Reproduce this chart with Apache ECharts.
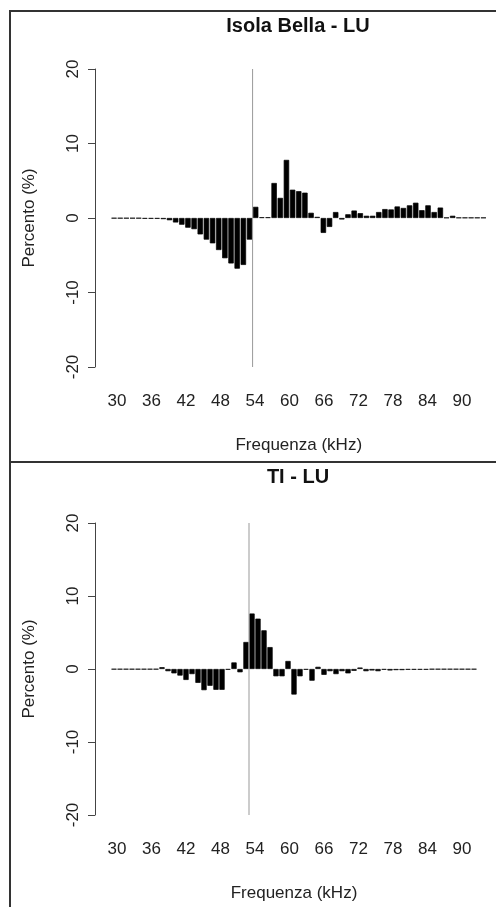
<!DOCTYPE html>
<html>
<head>
<meta charset="utf-8">
<script src="https://cdn.jsdelivr.net/npm/echarts@6/dist/echarts.min.js"></script>
<style>
  html, body { margin: 0; padding: 0; background: #fff; }
  #chart { width: 496px; height: 907px; }
</style>
</head>
<body>
<div id="chart"></div>
<script>
// frequency bins (kHz), one bar per bin
const freq = [30, 31, 32, 33, 34, 35, 36, 37, 38, 39,
  40, 41, 42, 43, 44, 45, 46, 47, 48, 49,
  50, 51, 52, 53, 54, 55, 56, 57, 58, 59,
  60, 61, 62, 63, 64, 65, 66, 67, 68, 69,
  70, 71, 72, 73, 74, 75, 76, 77, 78, 79,
  80, 81, 82, 83, 84, 85, 86, 87, 88, 89, 90];

// Isola Bella - LU (%)
const isolaBella = [-0.05, -0.05, -0.05, -0.05, -0.05, -0.1, -0.1, -0.1, -0.15, -0.3,
  -0.6, -0.9, -1.3, -1.5, -2.2, -2.9, -3.4, -4.3, -5.4, -6.1,
  -6.8, -6.3, -2.9, 1.5, 0.1, 0.1, 4.7, 2.7, 7.8, 3.8,
  3.6, 3.4, 0.7, 0.15, -2.0, -1.2, 0.8, -0.2, 0.5, 1.0,
  0.65, 0.3, 0.3, 0.8, 1.2, 1.15, 1.55, 1.35, 1.7, 2.05,
  1.05, 1.7, 0.8, 1.4, 0.05, 0.3, 0.05, 0.05, 0.05, 0.05, 0.05];

// TI - LU (%)
const tiLu = [-0.05, -0.05, -0.05, -0.05, -0.05, -0.05, -0.05, -0.05, 0.25, -0.3,
  -0.6, -0.9, -1.5, -0.7, -1.9, -2.9, -2.3, -2.85, -2.85, -0.1,
  0.9, -0.45, 3.7, 7.6, 6.9, 5.3, 3.0, -1.0, -1.0, 1.1,
  -3.5, -1.0, -0.1, -1.6, 0.3, -0.8, -0.3, -0.7, -0.3, -0.6,
  -0.25, 0.2, -0.3, -0.2, -0.3, -0.1, -0.2, -0.15, -0.15, -0.1,
  -0.1, -0.1, -0.1, -0.05, -0.05, -0.05, -0.05, -0.05, -0.05, -0.05, -0.05];

const xTicks = [30, 36, 42, 48, 54, 60, 66, 72, 78, 84, 90];
const yTicks = [-20, -10, 0, 10, 20];
const splitFreq = 52.5; // vertical reference line between the 52 and 53 bins

const FONT = "'Liberation Sans', Arial, sans-serif";
const TXT = "#222";

// panel layouts (pixels)
const panels = [
  { title: "Isola Bella - LU", data: isolaBella, top: 11, height: 451,
    titleY: 26, plotTop: 69, plotH: 298, barLeft: 111, barW: 375.5 },
  { title: "TI - LU", data: tiLu, top: 462, height: 450,
    titleY: 477, plotTop: 523, plotH: 292, barLeft: 111, barW: 366 }
];

const grid = [], xAxis = [], yAxis = [], series = [], graphic = [];

panels.forEach((p, i) => {
  const g = grid.length;
  // bars grid
  grid.push({ left: p.barLeft, width: p.barW, top: p.plotTop, height: p.plotH });
  // tick-label grid
  grid.push({ left: 117, width: 345, top: p.plotTop, height: p.plotH });

  const xa = xAxis.length;
  xAxis.push({
    type: "category", gridIndex: g, data: freq,
    axisLine: { show: false }, axisTick: { show: false }, axisLabel: { show: false },
    name: "Frequenza (kHz)", nameLocation: "middle", nameGap: 70,
    nameTextStyle: { fontFamily: FONT, fontSize: 17, color: TXT }
  });
  xAxis.push({ type: "value", gridIndex: g, min: freq[0] - 0.5, max: freq[freq.length - 1] + 0.5, show: false });
  xAxis.push({
    type: "value", gridIndex: g + 1, min: xTicks[0], max: xTicks[xTicks.length - 1],
    interval: xTicks[1] - xTicks[0],
    axisLine: { show: false }, axisTick: { show: false }, splitLine: { show: false },
    axisLabel: { margin: 26, fontFamily: FONT, fontSize: 17, color: TXT }
  });

  const ya = yAxis.length;
  yAxis.push({
    type: "value", gridIndex: g, min: yTicks[0], max: yTicks[yTicks.length - 1],
    interval: yTicks[1] - yTicks[0], offset: p.barLeft - 95,
    axisLine: { show: true, lineStyle: { color: "#444", width: 1 } },
    axisTick: { show: true, length: 7, lineStyle: { color: "#444" } },
    splitLine: { show: false },
    axisLabel: { rotate: 90, margin: 13, fontFamily: FONT, fontSize: 17, color: TXT },
    name: "Percento (%)", nameLocation: "middle", nameGap: 57,
    nameTextStyle: { fontFamily: FONT, fontSize: 17, color: TXT }
  });
  yAxis.push({ type: "value", gridIndex: g + 1, min: 0, max: 1, show: false });

  series.push({
    type: "bar", xAxisIndex: xa, yAxisIndex: ya, data: p.data,
    barCategoryGap: "12%",
    itemStyle: { color: "#000", borderColor: "#000", borderWidth: 0.7 },
    silent: true
  });
  series.push({
    type: "line", xAxisIndex: xa + 1, yAxisIndex: ya,
    data: [[splitFreq, yTicks[0]], [splitFreq, yTicks[yTicks.length - 1]]],
    symbol: "none", lineStyle: { color: "#999", width: 1 }, z: 5, silent: true
  });

  graphic.push({
    type: "rect", shape: { x: 10, y: p.top, width: 500, height: p.height },
    style: { fill: "none", stroke: "#333", lineWidth: 2 }, z: 100
  });
  graphic.push({
    type: "text", x: 298, y: p.titleY,
    style: { text: p.title, font: "bold 20px " + FONT, fill: "#111",
      textAlign: "center", textVerticalAlign: "middle" }
  });
});

const chart = echarts.init(document.getElementById("chart"));
chart.setOption({
  animation: false,
  grid: grid,
  xAxis: xAxis,
  yAxis: yAxis,
  series: series,
  graphic: graphic
});
</script>
</body>
</html>
